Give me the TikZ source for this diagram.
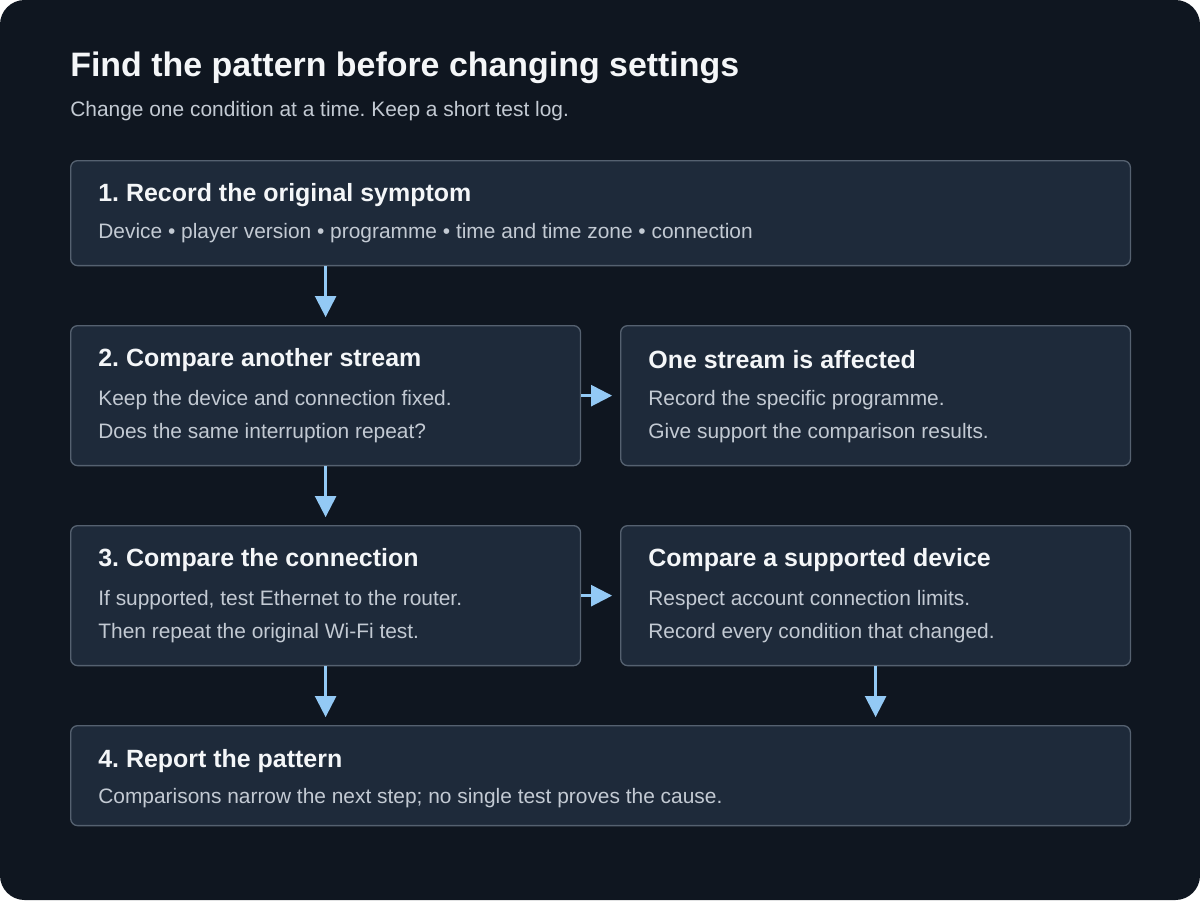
\documentclass[tikz,border=0pt]{standalone}
\usepackage{fontspec}
\setmainfont{Liberation Sans}
\usetikzlibrary{positioning, arrows.meta, calc}
\definecolor{canvas}{HTML}{0F1620}
\definecolor{boxfill}{HTML}{1E2A3A}
\definecolor{boxline}{HTML}{556170}
\definecolor{headtext}{HTML}{F4F6F8}
\definecolor{bodytext}{HTML}{C3CAD3}
\definecolor{flow}{HTML}{93C9F5}
\frenchspacing

\begin{document}
\begin{tikzpicture}[
    x=0.02cm, y=-0.02cm,
    stepbox/.style={draw=boxline, line width=0.75pt, fill=boxfill, rounded corners=4pt,
        anchor=north west, inner sep=0pt},
    head/.style={anchor=west, text=headtext, font=\bfseries\fontsize{14.2}{16}\selectfont, inner sep=0pt},
    body/.style={anchor=west, text=bodytext, font=\fontsize{11.9}{14}\selectfont, inner sep=0pt},
    flowarrow/.style={draw=flow, line width=1.4pt, -{Triangle[length=12pt, width=12pt]}}
]
    % canvas
    \fill[white] (0,0) rectangle (1200,900);
    \fill[canvas, rounded corners=14pt] (0,0) rectangle (1200,900);
    \useasboundingbox (0,0) rectangle (1200,900);

    % title
    \node[anchor=west, text=headtext, font=\bfseries\fontsize{19.3}{22}\selectfont, inner sep=0pt] (title) at (70,68) {Find the pattern before changing settings};
    \node[body] (subtitle) at (70,111) {Change one condition at a time. Keep a short test log.};

    % boxes
    \node[stepbox, minimum width=21.2cm, minimum height=2.1cm] (record) at (70,160) {};
    \node[stepbox, minimum width=10.2cm, minimum height=2.8cm] (stream) at (70,325) {};
    \node[stepbox, minimum width=10.2cm, minimum height=2.8cm] (onestream) at (620,325) {};
    \node[stepbox, minimum width=10.2cm, minimum height=2.8cm] (connection) at (70,525) {};
    \node[stepbox, minimum width=10.2cm, minimum height=2.8cm] (device) at (620,525) {};
    \node[stepbox, minimum width=21.2cm, minimum height=2.0cm] (report) at (70,725) {};

    % texts
    \node[head] at (98,195) {1. Record the original symptom};
    \node[body] at (98,233) {Device • player version • programme • time and time zone • connection};
    \node[head] at (98,360) {2. Compare another stream};
    \node[body] at (98,400) {Keep the device and connection fixed.};
    \node[body] at (98,433) {Does the same interruption repeat?};
    \node[head] at (648,360) {One stream is affected};
    \node[body] at (648,400) {Record the specific programme.};
    \node[body] at (648,433) {Give support the comparison results.};
    \node[head] at (98,560) {3. Compare the connection};
    \node[body] at (98,600) {If supported, test Ethernet to the router.};
    \node[body] at (98,633) {Then repeat the original Wi-Fi test.};
    \node[head] at (648,560) {Compare a supported device};
    \node[body] at (648,600) {Respect account connection limits.};
    \node[body] at (648,633) {Record every condition that changed.};
    \node[head] at (98,761) {4. Report the pattern};
    \node[body] at (98,798) {Comparisons narrow the next step; no single test proves the cause.};

    % connectors
    \draw[flowarrow, shorten >=4.5pt] (stream.north |- record.south) -- (stream.north);
    \draw[flowarrow, shorten >=4.5pt] (stream.east) -- (onestream.west);
    \draw[flowarrow, shorten >=4.5pt] (stream.south) -- (connection.north);
    \draw[flowarrow, shorten >=4.5pt] (connection.east) -- (device.west);
    \draw[flowarrow, shorten >=4.5pt] (connection.south) -- (connection.south |- report.north);
    \draw[flowarrow, shorten >=4.5pt] (device.south) -- (device.south |- report.north);
\end{tikzpicture}
\end{document}
